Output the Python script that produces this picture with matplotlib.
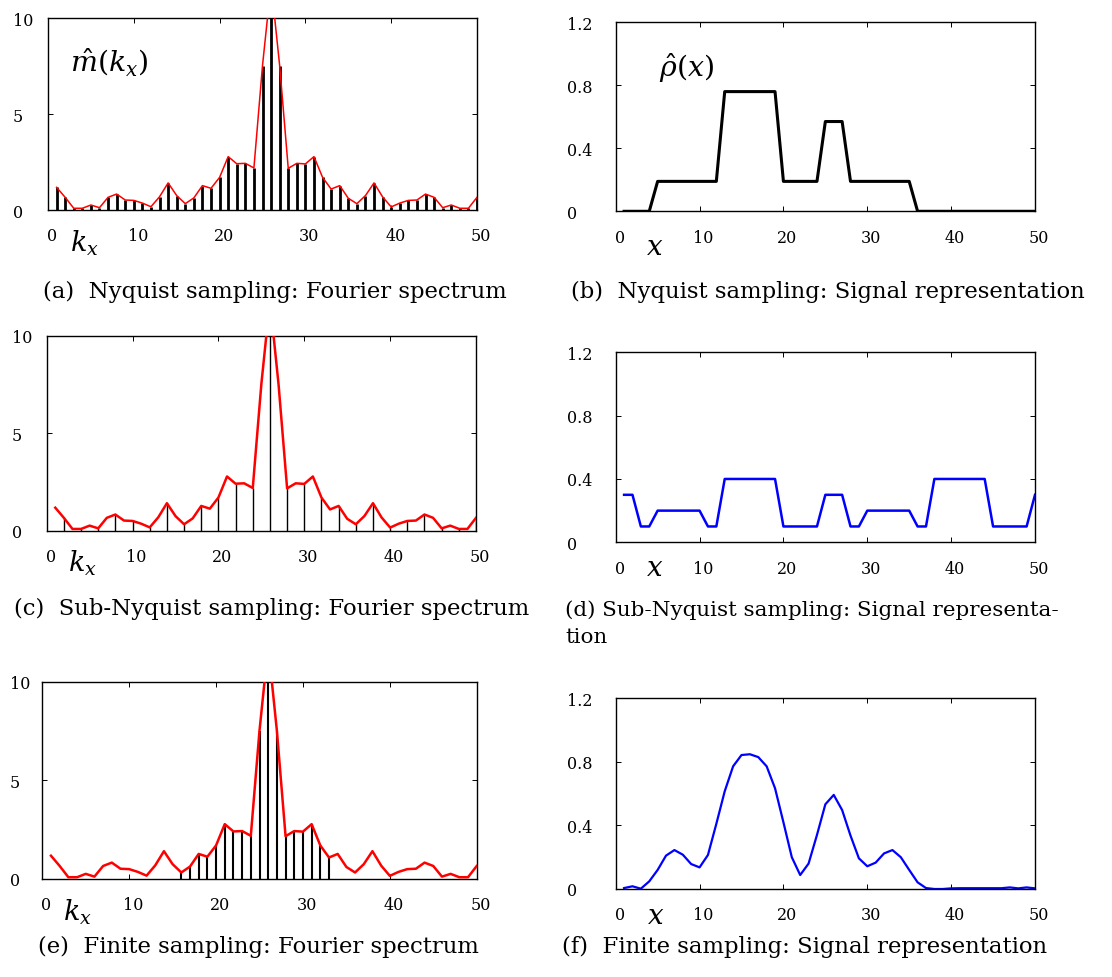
import numpy as np
import matplotlib
matplotlib.use("Agg")
import matplotlib.pyplot as plt
import matplotlib.transforms as mtransforms

plt.rcParams['font.family'] = ['DejaVu Serif']
plt.rcParams['mathtext.fontset'] = 'dejavuserif'

W, H = 1112, 978

# ---------------- data ----------------
kx = list(range(1, 51))
spectrum = [1.18, 0.66, 0.09, 0.09, 0.26, 0.12, 0.66, 0.83, 0.52, 0.50,
            0.36, 0.17, 0.69, 1.41, 0.75, 0.33, 0.63, 1.27, 1.13, 1.70,
            2.78, 2.41, 2.43, 2.19, 7.52, 11.8, 7.52, 2.17, 2.43, 2.40,
            2.78, 1.70, 1.09, 1.27, 0.61, 0.33, 0.75, 1.41, 0.68, 0.16,
            0.36, 0.50, 0.52, 0.83, 0.66, 0.12, 0.26, 0.09, 0.09, 0.66]
stems_nyquist = list(range(1, 51))
stems_sub = list(range(2, 51, 2))
stems_finite = list(range(16, 34))

x_pos = list(range(1, 51))
rho_nyquist = [0, 0, 0, 0, 0.19, 0.19, 0.19, 0.19, 0.19, 0.19,
               0.19, 0.19, 0.76, 0.76, 0.76, 0.76, 0.76, 0.76, 0.76, 0.19,
               0.19, 0.19, 0.19, 0.19, 0.57, 0.57, 0.57, 0.19, 0.19, 0.19,
               0.19, 0.19, 0.19, 0.19, 0.19, 0, 0, 0, 0, 0,
               0, 0, 0, 0, 0, 0, 0, 0, 0, 0]
rho_sub = [0.3, 0.3, 0.1, 0.1, 0.2, 0.2, 0.2, 0.2, 0.2, 0.2,
           0.1, 0.1, 0.4, 0.4, 0.4, 0.4, 0.4, 0.4, 0.4, 0.1,
           0.1, 0.1, 0.1, 0.1, 0.3, 0.3, 0.3, 0.1, 0.1, 0.2,
           0.2, 0.2, 0.2, 0.2, 0.2, 0.1, 0.1, 0.4, 0.4, 0.4,
           0.4, 0.4, 0.4, 0.4, 0.1, 0.1, 0.1, 0.1, 0.1, 0.3]
rho_finite = [0.006, 0.017, 0.002, 0.048, 0.12, 0.21, 0.245, 0.216, 0.157, 0.136,
              0.214, 0.41, 0.615, 0.772, 0.843, 0.848, 0.83, 0.772, 0.634, 0.42,
              0.20, 0.088, 0.16, 0.34, 0.533, 0.592, 0.497, 0.336, 0.193, 0.143,
              0.166, 0.224, 0.245, 0.20, 0.12, 0.042, 0.006, 0.0, 0.0, 0.004,
              0.005, 0.005, 0.005, 0.005, 0.005, 0.005, 0.01, 0.004, 0.01, 0.004]

spec_xticks = [0, 10, 20, 30, 40, 50]
spec_yticks = [0, 5, 10]
spec_yticklabels = ['0', '5', '10']
sig_xticks = [0, 10, 20, 30, 40, 50]
sig_yticks = [0, 0.4, 0.8, 1.2]
sig_yticklabels = ['0', '0.4', '0.8', '1.2']

captions = {
    'a': '(a)  Nyquist sampling: Fourier spectrum',
    'b': '(b)  Nyquist sampling: Signal representation',
    'c': '(c)  Sub-Nyquist sampling: Fourier spectrum',
    'd1': '(d) Sub-Nyquist sampling: Signal representa-',
    'd2': 'tion',
    'e': '(e)  Finite sampling: Fourier spectrum',
    'f': '(f)  Finite sampling: Signal representation',
}

fig = plt.figure(figsize=(W / 100, H / 100), dpi=100)
xshift = mtransforms.ScaledTranslation(4 / 100, 0, fig.dpi_scale_trans)
all_axes = []


def add_ax(l, t, r, b):
    ax = fig.add_axes([l / W, 1 - b / H, (r - l) / W, (b - t) / H])
    all_axes.append(ax)
    return ax


def style(ax, xticks, yticks, yticklabels, ylim, label_left_px, axis_left_px):
    ax.set_xlim(0, 50)
    ax.set_ylim(*ylim)
    ax.set_xticks(xticks)
    ax.set_xticklabels([str(v) for v in xticks])
    ax.set_yticks(yticks)
    ax.set_yticklabels(yticklabels)
    ax.tick_params(direction='in', top=True, right=True, length=3.5, width=0.7,
                   labelsize=11.5)
    ax.tick_params(axis='x', pad=12.5)
    ax.tick_params(axis='y', pad=(axis_left_px - label_left_px) * 0.72)
    for t in ax.get_yticklabels():
        t.set_horizontalalignment('left')
    for s in ax.spines.values():
        s.set_linewidth(1.0)


def ftext(x, y, s, **kw):
    fig.text(x / W, 1 - y / H, s, **kw)


# (a)
ax = add_ax(48, 19, 477, 211)
sel = [spectrum[k - 1] for k in stems_nyquist]
ax.vlines(stems_nyquist, 0, sel, color='black', lw=2.0, zorder=2)
ax.plot(kx, spectrum, color='#ff0000', lw=1.1, zorder=3)
style(ax, spec_xticks, spec_yticks, spec_yticklabels, (0, 10), 13, 48)

# (c)
ax = add_ax(46.7, 336.7, 476, 531.7)
sel = [spectrum[k - 1] for k in stems_sub]
ax.vlines(stems_sub, 0, sel, color='black', lw=1.0, zorder=2)
ax.plot(kx, spectrum, color='#ff0000', lw=1.8, zorder=3)
style(ax, spec_xticks, spec_yticks, spec_yticklabels, (0, 10), 12, 46.7)

# (e)
ax = add_ax(42.3, 682.7, 476.7, 880)
sel = [spectrum[k - 1] for k in stems_finite]
ax.vlines(stems_finite, 0, sel, color='black', lw=1.5, zorder=2)
ax.plot(kx, spectrum, color='#ff0000', lw=1.8, zorder=3)
style(ax, spec_xticks, spec_yticks, spec_yticklabels, (0, 10), 10, 42.3)

# (b)
ax = add_ax(615.7, 23.3, 1035, 212.3)
ax.plot(x_pos, rho_nyquist, color='black', lw=2.2)
style(ax, sig_xticks, sig_yticks, sig_yticklabels, (0, 1.2), 567, 615.7)

# (d)
ax = add_ax(615.7, 353.3, 1035, 543.3)
ax.plot(x_pos, rho_sub, color='#0000ff', lw=1.8)
style(ax, sig_xticks, sig_yticks, sig_yticklabels, (0, 1.2), 567, 615.7)

# (f)
ax = add_ax(615.7, 699.3, 1035, 890)
ax.plot(x_pos, rho_finite, color='#0000ff', lw=1.6)
style(ax, sig_xticks, sig_yticks, sig_yticklabels, (0, 1.2), 567, 615.7)

for ax in all_axes:
    for t in ax.get_xticklabels():
        t.set_transform(t.get_transform() + xshift)

# in-plot labels
ftext(109, 62, r'$\hat{m}(k_x)$', fontsize=20.5, ha='center', va='center')
ftext(687, 68, r'$\hat{\rho}(x)$', fontsize=20.5, ha='center', va='center')

# axis labels
for (x, y) in [(84, 243), (82, 563), (77, 912)]:
    ftext(x, y, r'$k_x$', fontsize=19.5, ha='center', va='center')
for (x, y) in [(655, 248), (655, 569), (656, 917)]:
    ftext(x, y, r'$x$', fontsize=20, ha='center', va='center')

# captions
cap_fs = 16.4
ftext(275, 292, captions['a'], fontsize=cap_fs, ha='center', va='center')
ftext(828, 292, captions['b'], fontsize=cap_fs, ha='center', va='center')
ftext(272, 609, captions['c'], fontsize=cap_fs, ha='center', va='center')
ftext(565, 610, captions['d1'], fontsize=15.4, ha='left', va='center')
ftext(565, 638, captions['d2'], fontsize=15.4, ha='left', va='center')
ftext(258, 947, captions['e'], fontsize=cap_fs, ha='center', va='center')
ftext(805, 947, captions['f'], fontsize=cap_fs, ha='center', va='center')

fig.savefig('out.png', dpi=100)
